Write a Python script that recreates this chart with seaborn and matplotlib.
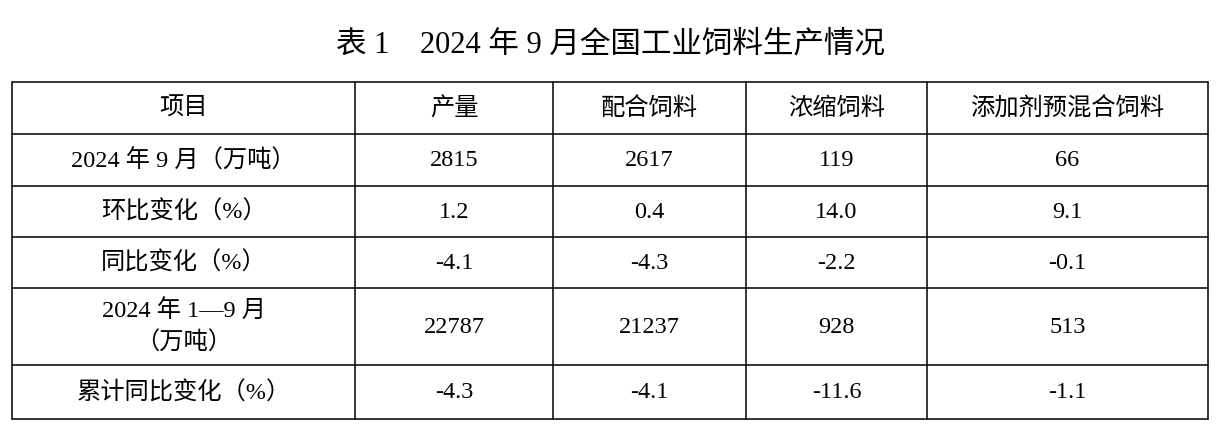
import matplotlib
matplotlib.use("Agg")
import matplotlib.pyplot as plt
import seaborn as sns

title = "表 1　2024 年 9 月全国工业饲料生产情况"
headers = ["项目", "产量", "配合饲料", "浓缩饲料", "添加剂预混合饲料"]
row_labels = ["2024 年 9 月（万吨）", "环比变化（%）", "同比变化（%）",
              "2024 年 1—9 月\n（万吨）", "累计同比变化（%）"]
output = ["2815", "1.2", "-4.1", "22787", "-4.3"]
compound = ["2617", "0.4", "-4.3", "21237", "-4.1"]
concentrate = ["119", "14.0", "-2.2", "928", "-11.6"]
premix = ["66", "9.1", "-0.1", "513", "-1.1"]

sns.set_theme(style="white")
plt.rcParams['font.family'] = ['Liberation Serif', 'Noto Sans CJK SC', 'DejaVu Sans']

W, H = 1221, 435
fig = plt.figure(figsize=(W/100, H/100), dpi=100)
ax = fig.add_axes([0, 0, 1, 1])
ax.set_xlim(0, W)
ax.set_ylim(H, 0)
ax.axis("off")

xs = [12, 355, 553, 746, 927, 1208]
ys = [83, 135, 187, 238, 289, 366, 420]

for y in ys:
    ax.plot([xs[0], xs[-1]], [y, y], color="black", lw=1.1)
for x in xs:
    ax.plot([x, x], [ys[0], ys[-1]], color="black", lw=1.1)

ax.text(W/2, 45, title, ha="center", va="center", fontsize=22, color="black")

fs = 17.5
for j, h in enumerate(headers):
    ax.text((xs[j]+xs[j+1])/2, (ys[0]+ys[1])/2, h, ha="center", va="center",
            fontsize=fs, color="black")

cols = [row_labels, output, compound, concentrate, premix]
for i in range(len(row_labels)):
    yc = (ys[i+1]+ys[i+2])/2
    for j, col in enumerate(cols):
        ax.text((xs[j]+xs[j+1])/2, yc, col[i], ha="center", va="center",
                fontsize=fs, linespacing=1.5, color="black")

fig.savefig("out.png", dpi=100)
